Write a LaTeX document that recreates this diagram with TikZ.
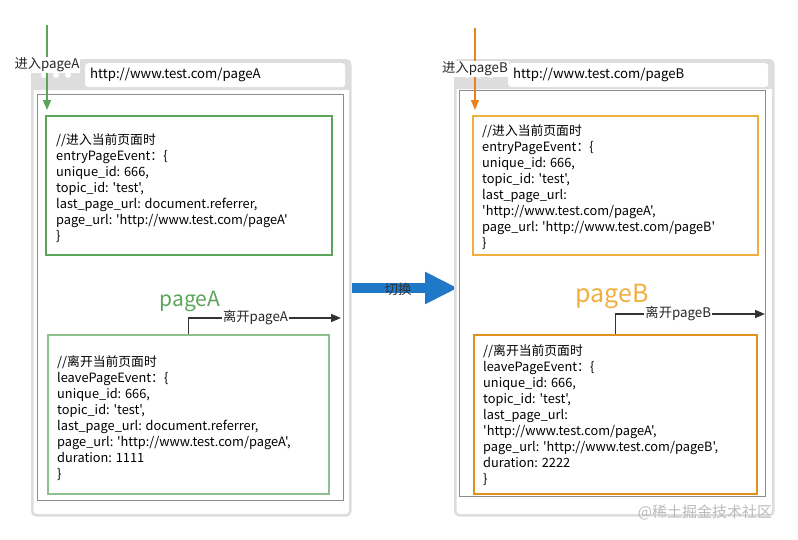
\documentclass[tikz,border=0pt]{standalone}
\usepackage{fontspec}
\setmainfont{Noto Sans CJK SC}[Ligatures=TeXOff]
\usetikzlibrary{positioning,arrows.meta}
\definecolor{frame}{HTML}{DDDDDD}
\definecolor{edge}{HTML}{8C8C8C}
\definecolor{grn}{HTML}{5BA55B}
\definecolor{grnlight}{HTML}{8CC08C}
\definecolor{ylw}{HTML}{F0B040}
\definecolor{org}{HTML}{E2901E}
\definecolor{orgarrow}{HTML}{E8841A}
\definecolor{blu}{HTML}{1F78C8}
\definecolor{mark}{HTML}{BBBBBB}
\begin{document}
\begin{tikzpicture}[x=1pt,y=-1pt,
    window/.style={draw=frame, line width=2.5pt, fill=white, rounded corners=4pt, anchor=north west, inner sep=0},
    page/.style={draw=edge, line width=0.8pt, anchor=north west, inner sep=0},
    urlbar/.style={fill=white, rounded corners=3pt, anchor=north west, minimum height=21pt, text width=250pt, align=left, inner sep=5pt, font=\fontsize{13.2}{14}\selectfont},
    box/.style={line width=1.8pt, anchor=north west, inner sep=0},
    code/.style={anchor=north west, inner sep=0, align=left, font=\fontsize{12.8}{16}\selectfont},
    tag/.style={fill=white, inner sep=1pt, font=\fontsize{13.3}{14}\selectfont},
    title/.style={font=\fontsize{21}{24}\selectfont},
    dot/.style={circle, fill=white, inner sep=0, minimum size=6pt}]
  \useasboundingbox (0,0) rectangle (798,539);

  % browser A
  \node (winA) [window, minimum width=318pt, minimum height=455pt] at (31,59) {};
  \fill[frame, rounded corners=4pt] (31,59) rectangle (349,90);
  \fill[frame] (31,80) rectangle (349,90);
  \node (urlA) [urlbar] at (85,63) {http://www.test.com/pageA};
  \foreach \i in {0,1,2} \node [dot] at (44+12*\i,75) {};
  \node (pgA) [page, minimum width=306pt, minimum height=406pt] at (37,94) {};

  \node (entA) [box, draw=grn, minimum width=286pt, minimum height=139pt] at (45,115) {};
  \node (entAtxt) [code, below right=18pt and 11pt of entA.north west] {%
    //进入当前页面时\\
    entryPageEvent：\{\\
    unique\_id: 666,\\
    topic\_id: 'test',\\
    last\_page\_url: document.referrer,\\
    page\_url: 'http://www.test.com/pageA'\\
    \}};

  \node (levA) [box, draw=grnlight, minimum width=281pt, minimum height=159pt] at (47,334) {};
  \node (levAtxt) [code, below right=21pt and 10pt of levA.north west] {%
    //离开当前页面时\\
    leavePageEvent：\{\\
    unique\_id: 666,\\
    topic\_id: 'test',\\
    last\_page\_url: document.referrer,\\
    page\_url: 'http://www.test.com/pageA',\\
    duration: 1111\\
    \}};
  \node (nameA) [title, text=grn] at (190,301) {pageA};

  \coordinate (inA) at (47,25);
  \draw[grn, line width=1.5pt, -{Triangle[length=10pt,width=8pt]}] (inA) -- ([xshift=2pt,yshift=5pt]entA.north west)
    node[tag, text=black!85, pos=0.47] {进入pageA};
  \coordinate (outA) at (341,318);
  \draw[black!80, line width=1.5pt, -{Triangle[length=10pt,width=8pt]}] (levA.north) |- (outA)
    node[tag, text=black!85, pos=0.72] {离开pageA};

  % switch
  \coordinate (swL) at (352,288);
  \coordinate (swR) at (458,288);
  \draw[blu, line width=10pt, -{Triangle[length=33pt,width=30pt]}] (swL) -- (swR);
  \node (sw) [font=\fontsize{13.5}{14}\selectfont, text=black!80] at (398,289) {切换};

  % browser B
  \node (winB) [window, minimum width=318pt, minimum height=455pt] at (454,59) {};
  \fill[frame, rounded corners=4pt] (454,59) rectangle (772,89);
  \fill[frame] (454,80) rectangle (772,89);
  \node (urlB) [urlbar] at (508,63) {http://www.test.com/pageB};
  \foreach \i in {0,1,2} \node [dot] at (467+12*\i,75) {};
  \node (pgB) [page, minimum width=306pt, minimum height=406pt] at (459,90) {};

  \node (entB) [box, draw=ylw, minimum width=285pt, minimum height=139pt] at (472,115) {};
  \node (entBtxt) [code, below right=9pt and 10pt of entB.north west] {%
    //进入当前页面时\\
    entryPageEvent：\{\\
    unique\_id: 666,\\
    topic\_id: 'test',\\
    last\_page\_url:\\
    'http://www.test.com/pageA',\\
    page\_url: 'http://www.test.com/pageB'\\
    \}};

  \node (levB) [box, draw=org, minimum width=283pt, minimum height=159pt] at (473,334) {};
  \node (levBtxt) [code, below right=10pt and 10pt of levB.north west] {%
    //离开当前页面时\\
    leavePageEvent：\{\\
    unique\_id: 666,\\
    topic\_id: 'test',\\
    last\_page\_url:\\
    'http://www.test.com/pageA',\\
    page\_url: 'http://www.test.com/pageB',\\
    duration: 2222\\
    \}};
  \node (nameB) [title, text=ylw, font=\fontsize{25}{28}\selectfont] at (612,296) {pageB};

  \coordinate (inB) at (475,28);
  \draw[orgarrow, line width=1.5pt, -{Triangle[length=10pt,width=8pt]}] (inB) -- ([xshift=3pt,yshift=5pt]entB.north west)
    node[tag, text=black!85, pos=0.5] {进入pageB};
  \coordinate (outB) at (765,314);
  \draw[black!80, line width=1.5pt, -{Triangle[length=10pt,width=8pt]}] (levB.north) |- (outB)
    node[tag, text=black!85, pos=0.71] {离开pageB};

  \node (credit) [text=mark, font=\fontsize{15}{17}\selectfont] at (705,512) {@稀土掘金技术社区};
\end{tikzpicture}
\end{document}
